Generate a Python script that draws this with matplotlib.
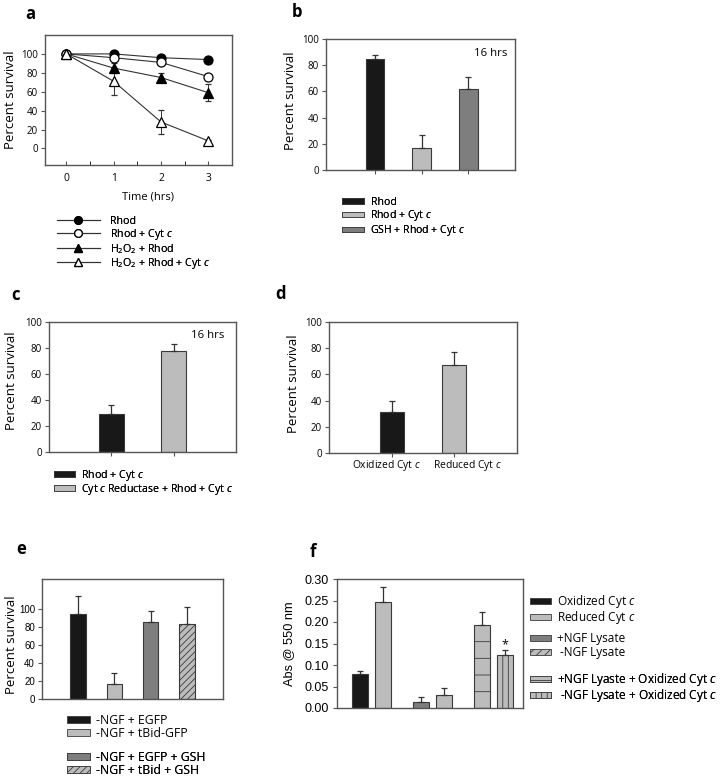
import matplotlib
matplotlib.use("Agg")
import matplotlib.pyplot as plt
import matplotlib.transforms as mtransforms
from matplotlib.lines import Line2D
from matplotlib.patches import Patch

plt.rcParams['font.family'] = ['Open Sans', 'DejaVu Sans']
plt.rcParams['mathtext.fontset'] = 'custom'
plt.rcParams['mathtext.rm'] = 'Open Sans'
plt.rcParams['mathtext.it'] = 'Open Sans:italic'
plt.rcParams['hatch.linewidth'] = 0.6

# ---- data ----
# a: survival over time
time_hrs = [0, 1, 2, 3]
rhod = [100, 100, 96, 94]
rhod_err = [0, 1, 1, 2]
rhod_cyt = [100, 96, 91, 76]
rhod_cyt_err = [0, 2, 2, 3]
h2o2_rhod = [100, 85, 75, 59]
h2o2_rhod_err = [0, 5, 5, 9]
h2o2_rhod_cyt = [100, 71, 28, 8]
h2o2_rhod_cyt_err = [0, 14, 13, 1]

# b
b_labels = ["Rhod", "Rhod + Cyt $\\it{c}$", "GSH + Rhod + Cyt $\\it{c}$"]
b_vals = [85, 17, 62]
b_err = [3, 10, 9]

# c
c_labels = ["Rhod + Cyt $\\it{c}$", "Cyt $\\it{c}$ Reductase + Rhod + Cyt $\\it{c}$"]
c_vals = [29, 78]
c_err = [7, 5]

# d
d_labels = ["Oxidized Cyt $\\it{c}$", "Reduced Cyt $\\it{c}$"]
d_vals = [31, 67]
d_err = [9, 10]

# e
e_labels = ["-NGF + EGFP", "-NGF + tBid-GFP", "-NGF + EGFP + GSH", "-NGF + tBid + GSH"]
e_vals = [94, 17, 85, 83]
e_err = [20, 12, 12, 19]

# f
f_labels = ["Oxidized Cyt $\\it{c}$", "Reduced Cyt $\\it{c}$", "+NGF Lysate", " -NGF Lysate",
            "+NGF Lyaste + Oxidized Cyt $\\it{c}$", " -NGF Lysate + Oxidized Cyt $\\it{c}$"]
f_pos = [0, 1, 2.6, 3.6, 5.2, 6.2]
f_vals = [0.080, 0.246, 0.013, 0.031, 0.192, 0.124]
f_err = [0.005, 0.035, 0.012, 0.015, 0.031, 0.010]

BLACK = '#181818'
LIGHT = '#bcbcbc'
MID = '#7e7e7e'
EDGE = '#3a3a3a'
SPINE = '#555555'

W, H = 724, 782
fig = plt.figure(figsize=(W / 100, H / 100), dpi=100)


def box(l, t, r, b):
    return [l / W, 1 - b / H, (r - l) / W, (b - t) / H]


def style(ax, xticks=True):
    for s in ax.spines.values():
        s.set_color(SPINE)
        s.set_linewidth(1.0)
    ax.tick_params(axis='y', direction='out', length=3, width=0.8, color=SPINE, pad=2, labelsize=7)
    if xticks:
        ax.tick_params(axis='x', direction='out', length=3, width=0.8, color=SPINE, pad=2, labelsize=7.4)
    else:
        ax.tick_params(axis='x', length=0, labelbottom=False)


def ylabel(ax, text, x, y, fs=9.5, **kw):
    ax.set_ylabel(text, fontsize=fs, va='center', **kw)
    ax.yaxis.set_label_coords(x, y)


def legend(ax, handles, labels, x, y, fs, hl, hh, tp, ls):
    leg = ax.legend(handles, labels, loc='upper left', bbox_to_anchor=(x / W, 1 - y / H),
                    bbox_transform=fig.transFigure, frameon=False, borderpad=0, borderaxespad=0,
                    fontsize=fs, handlelength=hl, handleheight=hh, handletextpad=tp, labelspacing=ls)
    ax.add_artist(leg)


def panel_letter(x, y, s):
    fig.text(x / W, 1 - y / H, s, fontsize=12, fontweight='bold', ha='center', va='center')


err_kw = dict(ecolor='#333333', elinewidth=0.9, capsize=2, capthick=0.9)

# ---------- a ----------
ax = fig.add_axes(box(45, 35, 232, 164.5))
series = [
    (rhod, rhod_err, 'o', 'black', "Rhod"),
    (rhod_cyt, rhod_cyt_err, 'o', 'white', "Rhod + Cyt $\\it{c}$"),
    (h2o2_rhod, h2o2_rhod_err, '^', 'black', "H$_\\mathrm{2}$O$_\\mathrm{2}$ + Rhod"),
    (h2o2_rhod_cyt, h2o2_rhod_cyt_err, '^', 'white', "H$_\\mathrm{2}$O$_\\mathrm{2}$ + Rhod + Cyt $\\it{c}$"),
]
handles = []
for vals, err, mk, fc, lab in series:
    ax.errorbar(time_hrs, vals, yerr=err, color='#333333', lw=0.8, marker=mk, mfc=fc, mec='black',
                ms=6.5, mew=0.9, capsize=2, elinewidth=0.7, capthick=0.7)
    handles.append(Line2D([], [], color='#333333', lw=0.8, marker=mk, mfc=fc, mec='black', ms=5.5, mew=0.9))
ax.set_xlim(-0.45, 3.5)
ax.set_ylim(-17, 120)
ax.set_yticks(range(0, 101, 20))
ax.set_xticks(time_hrs)
ax.set_xticks([0.5, 1.5, 2.5], minor=True)
style(ax)
ax.tick_params(axis='x', which='both', direction='in', length=3, pad=6)
ylabel(ax, "Percent survival", -0.182, 0.5)
fig.text(148 / W, 1 - 197 / H, "Time (hrs)", fontsize=8, ha='center', va='center')
legend(ax, handles, [s[4] for s in series], 57, 216, 7.7, 4.0, 0.7, 1.0, 0.0)
panel_letter(30, 14, 'a')

# ---------- b ----------
ax = fig.add_axes(box(326, 39, 515, 170))
b_pos = [1, 2, 3]
b_cols = [BLACK, LIGHT, MID]
ax.bar(b_pos, b_vals, width=0.4, color=b_cols, edgecolor=EDGE, lw=0.8,
       yerr=[[0] * 3, b_err], error_kw=err_kw)
ax.set_xlim(-0.05, 4.0)
ax.set_ylim(0, 100)
ax.set_xticks(b_pos)
ax.set_xticklabels([])
style(ax)
ylabel(ax, "Percent survival", -0.19, 0.53)
ax.text(0.87, 0.89, "16 hrs", transform=ax.transAxes, fontsize=8.2, ha='center', va='center')
legend(ax, [Patch(fc=c, ec=EDGE, lw=0.6) for c in b_cols], b_labels, 342, 197, 7.6, 2.1, 0.45, 0.6, 0.02)
panel_letter(297, 12, 'b')

# ---------- c ----------
ax = fig.add_axes(box(49, 322, 236, 452))
c_pos = [1, 2]
c_cols = [BLACK, LIGHT]
ax.bar(c_pos, c_vals, width=0.41, color=c_cols, edgecolor=EDGE, lw=0.8,
       yerr=[[0] * 2, c_err], error_kw=err_kw)
ax.set_xlim(0, 3)
ax.set_ylim(0, 100)
ax.set_xticks(c_pos)
ax.set_xticklabels([])
style(ax)
ylabel(ax, "Percent survival", -0.2, 0.55)
ax.text(0.848, 0.9, "16 hrs", transform=ax.transAxes, fontsize=8.2, ha='center', va='center')
legend(ax, [Patch(fc=c, ec=EDGE, lw=0.6) for c in c_cols], c_labels, 54, 468, 7.7, 2.0, 0.55, 0.55, -0.12)
panel_letter(15, 295, 'c')

# ---------- d ----------
ax = fig.add_axes(box(329, 322, 517, 453))
d_pos = [1, 2]
ax.bar(d_pos, d_vals, width=0.38, color=[BLACK, LIGHT], edgecolor=EDGE, lw=0.8,
       yerr=[[0] * 2, d_err], error_kw=err_kw)
ax.set_xlim(0, 3)
ax.set_ylim(0, 100)
ax.set_xticks(d_pos)
ax.set_xticklabels([])
style(ax)
# category names sit slightly spread apart from the tick marks
tr = mtransforms.blended_transform_factory(ax.transData, ax.transAxes)
for p, lab, shift in zip(d_pos, d_labels, [-0.09, 0.21]):
    ax.text(p + shift, -0.092, lab, transform=tr, fontsize=7.4, ha='center', va='center')
ylabel(ax, "Percent survival", -0.19, 0.53)
panel_letter(280, 294, 'd')

# ---------- e ----------
ax = fig.add_axes(box(42, 579, 223, 699))
e_pos = [1, 2, 3, 4]
e_cols = [BLACK, LIGHT, MID, LIGHT]
e_hatch = ['', '', '', '/////']
bars = ax.bar(e_pos, e_vals, width=0.43, color=e_cols, edgecolor=EDGE, lw=0.8,
              yerr=[[0] * 4, e_err], error_kw=err_kw)
for bar, h in zip(bars, e_hatch):
    bar.set_hatch(h)
ax.set_xlim(0, 5)
ax.set_ylim(0, 133)
ax.set_yticks(range(0, 101, 20))
style(ax, xticks=False)
for lab in ax.get_yticklabels():
    lab.set_fontfamily('Liberation Sans')
ylabel(ax, "Percent survival", -0.166, 0.45)
eh = [Patch(fc=c, ec=EDGE, lw=0.6, hatch=h) for c, h in zip(e_cols, e_hatch)]
legend(ax, eh[:2], e_labels[:2], 66.7, 714, 8.8, 1.9, 0.55, 0.5, 0.0)
legend(ax, eh[2:], e_labels[2:], 66.7, 751, 8.8, 1.9, 0.55, 0.5, 0.0)
panel_letter(21, 549, 'e')

# ---------- f ----------
ax = fig.add_axes(box(337, 579, 523, 708))
f_cols = [BLACK, LIGHT, MID, LIGHT, LIGHT, LIGHT]
f_hatch = ['', '', '', '/', '-', '|||']
bars = ax.bar(f_pos, f_vals, width=0.68, color=f_cols, edgecolor=EDGE, lw=0.8,
              yerr=[[0] * 6, f_err], error_kw=err_kw)
for bar, h in zip(bars, f_hatch):
    bar.set_hatch(h)
ax.text(f_pos[5], f_vals[5] + f_err[5] + 0.012, "*", fontsize=9, ha='center', va='center')
ax.set_xlim(-0.97, 6.97)
ax.set_ylim(0, 0.30)
ax.set_yticks([0, 0.05, 0.10, 0.15, 0.20, 0.25, 0.30])
ax.set_yticklabels(["0.00", "0.05", "0.10", "0.15", "0.20", "0.25", "0.30"])
style(ax, xticks=False)
ax.tick_params(axis='y', labelsize=9, pad=3)
for lab in ax.get_yticklabels():
    lab.set_fontfamily('Liberation Sans')
ylabel(ax, "Abs @ 550 nm", -0.26, 0.5, fs=9.2, fontfamily='Liberation Sans')
fh_hatch = ['', '', '', '////', '---', '|||']
fh = [Patch(fc=c, ec=EDGE, lw=0.6, hatch=h) for c, h in zip(f_cols, fh_hatch)]
legend(ax, fh[:2], f_labels[:2], 530, 593, 8.5, 1.75, 0.42, 0.5, -0.1)
legend(ax, fh[2:4], f_labels[2:4], 530, 632, 8.5, 1.75, 0.42, 0.5, 0.12)
legend(ax, fh[4:], f_labels[4:], 530, 671, 8.5, 1.75, 0.42, 0.5, -0.1)
panel_letter(313, 552, 'f')

fig.savefig("out.png", dpi=100)
